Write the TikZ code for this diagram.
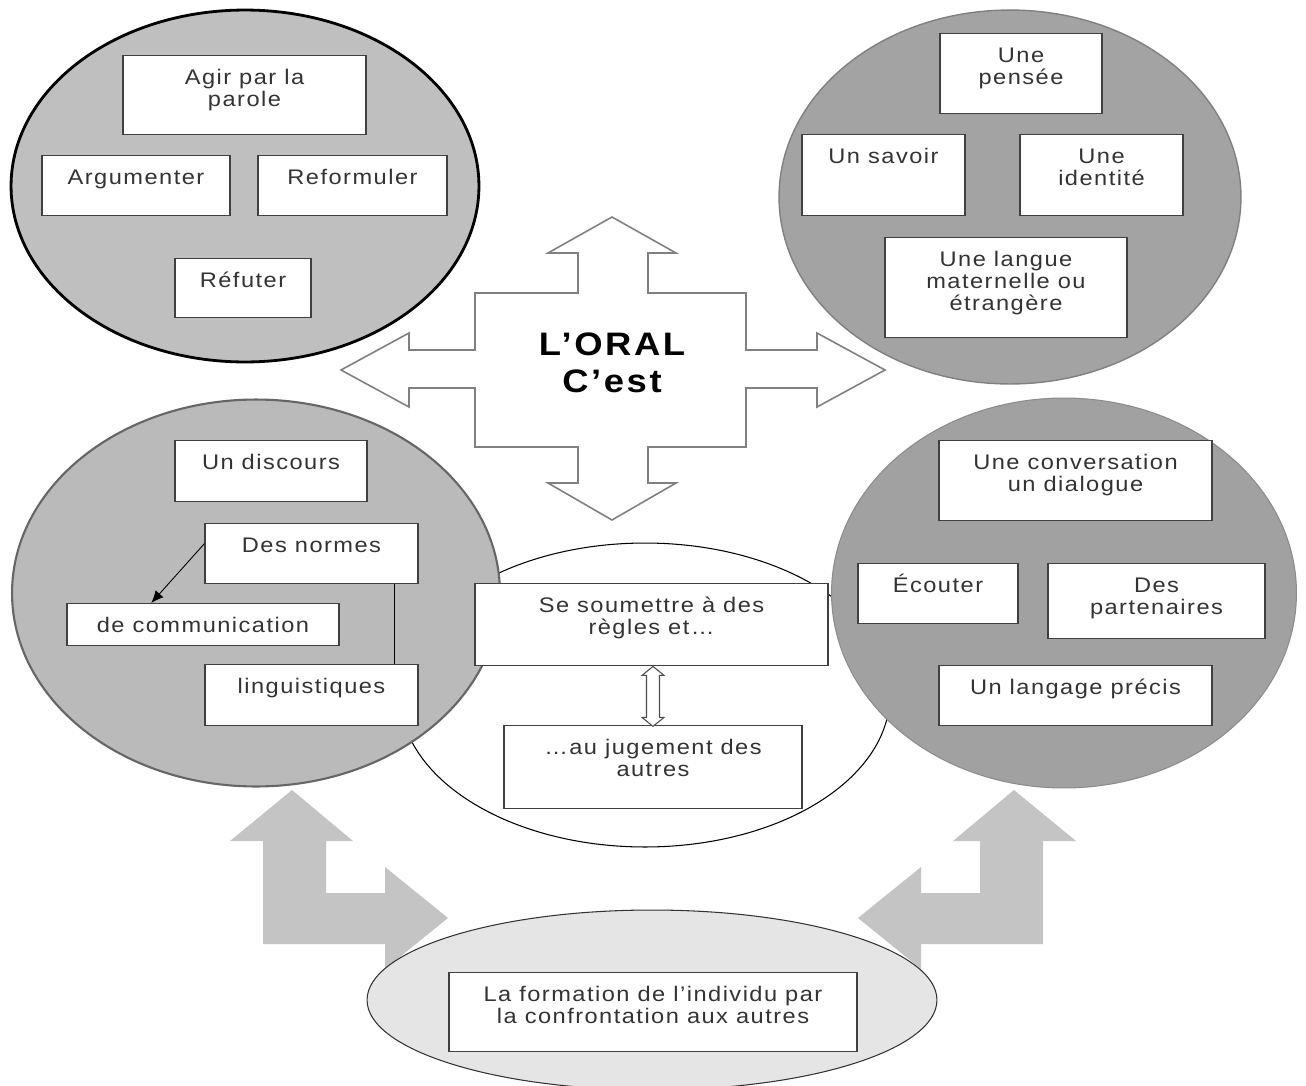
\documentclass[tikz,border=0pt]{standalone}
\usepackage{fontspec}
\setmainfont{Liberation Sans}[FakeStretch=1.12,LetterSpace=7]
\newfontfamily\Titre{Liberation Sans}[FakeStretch=1.12,LetterSpace=8]
\usepackage{tikz}
\usetikzlibrary{shapes.geometric,arrows.meta}
\newdimen\pxl \pxl=0.02cm

\begin{document}
\begin{tikzpicture}[x=0.02cm,y=-0.02cm]
% Styles
\tikzstyle{bulle}=[ellipse,inner sep=0pt]
\tikzstyle{boite}=[draw=black!75,line width=0.8pt,fill=white,inner sep=0pt,anchor=north,text=black!80,font=\fontsize{12}{12.5}\selectfont]
\tikzstyle{titre}=[align=center,font=\Titre\fontsize{18.5}{21}\selectfont\bfseries]
\tikzstyle{croix}=[draw=black!50,line width=0.9pt,fill=white,line join=miter]
\tikzstyle{bloc}=[fill=black!23]
\tikzstyle{fleche}=[-{Latex[length=7pt,width=6pt]},line width=0.5pt]
\tikzstyle{lien}=[line width=0.7pt]
\tikzstyle{creux}=[draw=black!70,line width=0.6pt,fill=white]
% Case : largeur, hauteur (px), texte en haut
\def\Case#1#2#3{\parbox[c][#2\pxl][t]{#1\pxl}{\centering\rule{0pt}{16.4pt}#3}}
% Cadre
\fill[white] (0,0) rectangle (1306,1086);
\useasboundingbox (0,0) rectangle (1306,1086);
% Fleches grises
\fill[bloc] (292,790) -- (353,841) -- (326,841) -- (326,893) -- (385,893) -- (385,867) -- (448,918)
  -- (385,969) -- (385,944) -- (263,944) -- (263,841) -- (230,841) -- cycle;
\fill[bloc] (1014,790) -- (953,841) -- (980,841) -- (980,893) -- (921,893) -- (921,867) -- (858,918)
  -- (921,969) -- (921,944) -- (1043,944) -- (1043,841) -- (1076,841) -- cycle;
% Bulles
\node[bulle,draw=black,line width=0.6pt,fill=white,minimum width=9.8cm,minimum height=6.08cm] (C) at (645,695) {};
\node[bulle,draw=black!80,line width=0.6pt,fill=black!10,minimum width=11.4cm,minimum height=3.6cm] (F) at (652,1000) {};
\node[bulle,draw=black,line width=1.6pt,fill=black!25,minimum width=9.36cm,minimum height=7.04cm] (HG) at (245,186) {};
\node[bulle,draw=black!50,line width=0.8pt,fill=black!36,minimum width=9.24cm,minimum height=7.48cm] (HD) at (1010,197) {};
\node[bulle,draw=black!60,line width=1.2pt,fill=black!27,minimum width=9.76cm,minimum height=7.74cm] (BG) at (256,593) {};
\node[bulle,draw=black!45,line width=0.6pt,fill=black!37,minimum width=9.3cm,minimum height=7.8cm] (BD) at (1064,593) {};
% Fleche centrale
\draw[croix] (612,217) -- (676,253) -- (648,253) -- (648,293) -- (746,293) -- (746,350) -- (817,350)
  -- (817,333) -- (885,370) -- (817,407) -- (817,388) -- (746,388) -- (746,447) -- (648,447)
  -- (648,483) -- (676,483) -- (612,520) -- (548,483) -- (578,483) -- (578,447) -- (475,447)
  -- (475,388) -- (409,388) -- (409,407) -- (341,370) -- (409,333) -- (409,350) -- (475,350)
  -- (475,293) -- (578,293) -- (578,253) -- (548,253) -- cycle;
\node[titre] (T) at (612,363) {L’ORAL\\C’est};
% Noeuds
\node[boite] (HGa) at (244.5,55) {\Case{243}{79}{Agir par la\\parole}};
\node[boite] (HGb) at (136,155) {\Case{188}{60}{Argumenter}};
\node[boite] (HGc) at (352.5,155) {\Case{189}{60}{Reformuler}};
\node[boite] (HGd) at (243,258) {\Case{136}{59}{Réfuter}};
\node[boite] (HDa) at (1021,33) {\Case{162}{80}{Une\\pensée}};
\node[boite] (HDb) at (883.5,134) {\Case{163}{81}{Un savoir}};
\node[boite] (HDc) at (1101.5,134) {\Case{163}{81}{Une\\identité}};
\node[boite] (HDd) at (1006,237) {\Case{242}{100}{Une langue\\maternelle ou\\étrangère}};
\node[boite] (BGa) at (271,440) {\Case{192}{61}{Un discours}};
\node[boite] (BGb) at (311.5,523) {\Case{213}{60}{Des normes}};
\node[boite] (BGc) at (203,603) {\Case{272}{42}{de communication}};
\node[boite] (BGd) at (311.5,664) {\Case{213}{61}{linguistiques}};
\node[boite] (Ca) at (651.5,583) {\Case{353}{82}{Se soumettre à des\\règles et…}};
\node[boite] (Cb) at (653,725) {\Case{298}{83}{…au jugement des\\autres}};
\node[boite] (BDa) at (1075.5,440) {\Case{273}{80}{Une conversation\\un dialogue}};
\node[boite] (BDb) at (938,563) {\Case{160}{60}{Écouter}};
\node[boite] (BDc) at (1156.5,563) {\Case{217}{75}{Des\\partenaires}};
\node[boite] (BDd) at (1075.5,665) {\Case{273}{60}{Un langage précis}};
\node[boite] (Fa) at (653,972) {\Case{408}{79}{La formation de l'individu par\\la confrontation aux autres}};
% Arcs
\draw[fleche] ([yshift=0.2cm]BGb.west) -- ([xshift=1.7cm]BGc.north west);
\draw[lien] ([xshift=-0.48cm]BGb.south east) -- ([xshift=-0.48cm]BGd.north east);
\draw[creux] ([xshift=0.03cm]Ca.south) -- ++(11,9) -- ++(-4.5,0) -- ++(0,42) -- ++(4.5,0) -- ++(-11,9)
  -- ++(-11,-9) -- ++(4.5,0) -- ++(0,-42) -- ++(-4.5,0) -- cycle;
\end{tikzpicture}
\end{document}
